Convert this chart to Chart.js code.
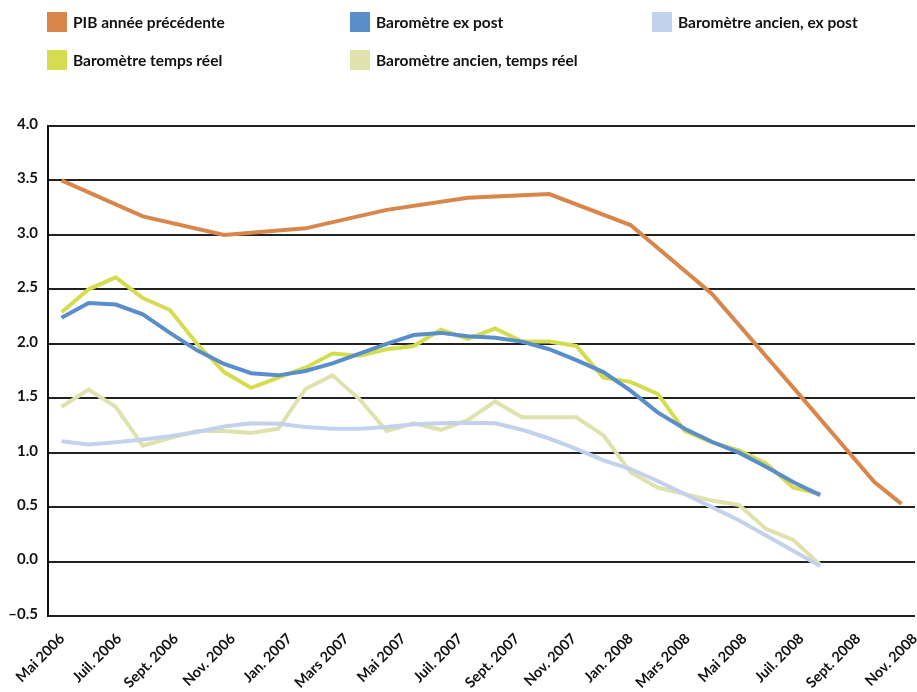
<!DOCTYPE html>
<html>
<head>
<meta charset="utf-8">
<title>Baromètre</title>
<script src="https://cdn.jsdelivr.net/npm/chart.js@4.4.1/dist/chart.umd.min.js"></script>
<style>
  html, body { margin: 0; padding: 0; background: #fff; }
  #wrap { position: relative; width: 917px; height: 692px; }
  #legend { position: absolute; left: 0; top: 0; width: 917px; height: 80px;
    font: bold 15.5px Lato, 'Liberation Sans', sans-serif; color: #111; }
  #legend .item { position: absolute; display: flex; align-items: center; height: 20px; white-space: nowrap; }
  #legend .box { width: 20px; height: 20px; margin-right: 6px; }
</style>
</head>
<body>
<div id="wrap">
  <canvas id="chart" width="917" height="692"></canvas>
  <div id="legend"></div>
</div>
<script>
// months, one per data point (Mai 2006 .. Déc. 2008)
const months = ['Mai 2006', 'Juin 2006', 'Juil. 2006', 'Août 2006', 'Sept. 2006', 'Oct. 2006',
  'Nov. 2006', 'Déc. 2006', 'Jan. 2007', 'Févr. 2007', 'Mars 2007', 'Avr. 2007',
  'Mai 2007', 'Juin 2007', 'Juil. 2007', 'Août 2007', 'Sept. 2007', 'Oct. 2007',
  'Nov. 2007', 'Déc. 2007', 'Jan. 2008', 'Févr. 2008', 'Mars 2008', 'Avr. 2008',
  'Mai 2008', 'Juin 2008', 'Juil. 2008', 'Août 2008', 'Sept. 2008', 'Oct. 2008',
  'Nov. 2008', 'Déc. 2008'];

// axis labels shown under the chart
const tickLabels = ['Mai 2006', 'Juil. 2006', 'Sept. 2006', 'Nov. 2006', 'Jan. 2007', 'Mars 2007',
  'Mai 2007', 'Juil. 2007', 'Sept. 2007', 'Nov. 2007', 'Jan. 2008', 'Mars 2008',
  'Mai 2008', 'Juil. 2008', 'Sept. 2008', 'Nov. 2008'];

const seriesNames = ['PIB année précédente', 'Baromètre ex post', 'Baromètre ancien, ex post',
  'Baromètre temps réel', 'Baromètre ancien, temps réel'];

// quarterly GDP, null in between
const pib = [3.50, null, null, 3.17, null, null, 3.00, null, null, 3.06, null, null,
  3.23, null, null, 3.34, null, null, 3.375, null, null, 3.09, null, null,
  2.46, null, null, 1.60, null, null, 0.73, 0.53];

const exPost = [2.24, 2.375, 2.36, 2.27, 2.10, 1.94, 1.815, 1.73, 1.71, 1.75, 1.82, 1.91,
  2.00, 2.08, 2.10, 2.07, 2.055, 2.02, 1.95, 1.85, 1.74, 1.57, 1.37, 1.22,
  1.10, 1.00, 0.87, 0.73, 0.61];

const ancienExPost = [1.105, 1.075, 1.095, 1.12, 1.15, 1.19, 1.24, 1.27, 1.265, 1.235, 1.22, 1.22,
  1.235, 1.26, 1.27, 1.275, 1.27, 1.21, 1.13, 1.035, 0.93, 0.85, 0.74, 0.62,
  0.50, 0.38, 0.24, 0.10, -0.04];

const tempsReel = [2.29, 2.50, 2.61, 2.42, 2.31, 2.00, 1.74, 1.595, 1.69, 1.78, 1.91, 1.89,
  1.95, 1.98, 2.13, 2.045, 2.14, 2.02, 2.02, 1.98, 1.69, 1.65, 1.54, 1.20,
  1.095, 1.02, 0.90, 0.68, 0.62];

const ancienTempsReel = [1.42, 1.58, 1.42, 1.065, 1.135, 1.20, 1.20, 1.18, 1.22, 1.585, 1.71, 1.49,
  1.20, 1.27, 1.21, 1.30, 1.47, 1.325, 1.325, 1.325, 1.16, 0.82, 0.68, 0.62,
  0.56, 0.52, 0.30, 0.20, -0.03];

const FONT = "Lato, 'Liberation Sans', sans-serif";

// legend slots (left, top) for the html legend
const legendSlots = [[47, 12], [350, 12], [652, 12], [47, 50], [350, 50]];

const htmlLegend = {
    id: 'htmlLegend',
    afterUpdate(chart) {
        const box = document.getElementById('legend');
        box.innerHTML = '';
        const items = chart.options.plugins.legend.labels.generateLabels(chart);
        items.forEach((item, i) => {
            const el = document.createElement('div');
            el.className = 'item';
            el.style.left = legendSlots[i][0] + 'px';
            el.style.top = legendSlots[i][1] + 'px';
            const sw = document.createElement('span');
            sw.className = 'box';
            sw.style.background = item.strokeStyle;
            const tx = document.createElement('span');
            tx.textContent = item.text;
            el.appendChild(sw);
            el.appendChild(tx);
            box.appendChild(el);
        });
    }
};

function line(label, data, color, width) {
    return {
        label: label,
        data: data,
        borderColor: color,
        backgroundColor: color,
        borderWidth: width,
        pointRadius: 0,
        tension: 0,
        spanGaps: true,
        fill: false
    };
}

new Chart(document.getElementById('chart').getContext('2d'), {
    type: 'line',
    data: {
        labels: months,
        datasets: [
            line(seriesNames[0], pib, '#d8864a', 4),
            line(seriesNames[1], exPost, '#5a8ecb', 4),
            line(seriesNames[2], ancienExPost, '#c3d2ec', 4),
            line(seriesNames[3], tempsReel, '#d5dc50', 4),
            line(seriesNames[4], ancienTempsReel, '#dfe2ad', 4)
        ]
    },
    plugins: [htmlLegend],
    options: {
        responsive: false,
        animation: false,
        layout: { padding: { top: 126, right: 2, left: 0, bottom: 0 } },
        plugins: {
            legend: { display: false },
            tooltip: { enabled: false }
        },
        scales: {
            x: {
                type: 'category',
                display: false,
                offset: true
            },
            x2: {
                type: 'linear',
                position: 'bottom',
                min: -0.25,
                max: 15,
                grid: { display: false },
                border: { display: false },
                afterFit: s => {
                    s.height = 76;
                    s.paddingLeft = 0;
                    s.paddingRight = 0;
                },
                ticks: {
                    stepSize: 1,
                    includeBounds: false,
                    autoSkip: false,
                    minRotation: 45,
                    maxRotation: 45,
                    padding: 6,
                    color: '#111',
                    font: { family: FONT, size: 14.5, weight: 'bold' },
                    callback: v => tickLabels[v] || ''
                }
            },
            y: {
                min: -0.5,
                max: 4,
                afterFit: s => { s.width = 48; },
                grid: { color: '#222', lineWidth: 2, drawTicks: false },
                border: { display: true, color: '#111', width: 2 },
                ticks: {
                    stepSize: 0.5,
                    padding: 10,
                    labelOffset: -2,
                    color: '#111',
                    font: { family: FONT, size: 15, weight: 'bold' },
                    callback: v => (v < 0 ? '\u2013' : '') + Math.abs(v).toFixed(1)
                }
            }
        }
    }
});
</script>
</body>
</html>
